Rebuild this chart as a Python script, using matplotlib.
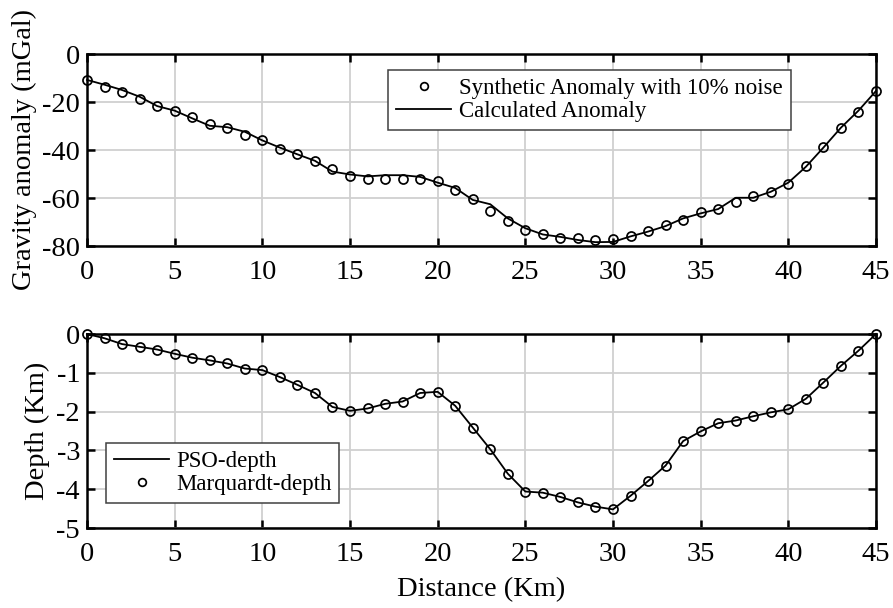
import matplotlib
matplotlib.use("Agg")
import matplotlib.pyplot as plt
import numpy as np

plt.rcParams['font.family'] = ['Liberation Serif', 'DejaVu Serif']
plt.rcParams['mathtext.fontset'] = 'stix'

distance = list(range(0, 46))

synthetic_anomaly = [-10.8, -13.8, -16.0, -18.9, -21.7, -23.9, -26.3, -29.2, -30.8, -33.8,
                     -36.0, -39.4, -41.5, -44.4, -47.9, -50.7, -51.9, -51.9, -51.9, -51.9,
                     -53.1, -56.5, -60.4, -65.4, -69.4, -73.3, -75.0, -76.8, -76.8, -77.5,
                     -76.9, -75.7, -73.9, -71.1, -69.3, -66.0, -64.4, -61.5, -59.2, -57.5,
                     -54.0, -46.7, -38.8, -30.8, -24.2, -15.4]

calculated_anomaly = [-10.8, -12.8, -15.0, -17.8, -21.7, -23.6, -26.8, -29.9, -30.5, -32.4,
                      -36.0, -39.0, -41.8, -44.5, -49.0, -50.2, -51.0, -50.5, -50.5, -51.2,
                      -53.6, -55.8, -60.8, -62.6, -68.5, -72.6, -75.2, -76.2, -77.5, -78.4,
                      -78.3, -76.0, -74.0, -71.7, -68.5, -66.4, -64.6, -59.9, -59.9, -57.4,
                      -53.6, -47.0, -39.0, -30.7, -23.6, -15.4]

marquardt_depth = [0.0, -0.11, -0.26, -0.33, -0.40, -0.51, -0.61, -0.68, -0.76, -0.89,
                   -0.93, -1.11, -1.31, -1.52, -1.88, -1.98, -1.92, -1.80, -1.74, -1.52,
                   -1.49, -1.85, -2.41, -2.97, -3.60, -4.06, -4.09, -4.20, -4.34, -4.45,
                   -4.52, -4.17, -3.79, -3.39, -2.76, -2.51, -2.30, -2.23, -2.12, -2.02,
                   -1.94, -1.67, -1.25, -0.82, -0.43, 0.0]

pso_depth = list(marquardt_depth)

x_ticks = [0, 5, 10, 15, 20, 25, 30, 35, 40, 45]
top_yticks = [0, -20, -40, -60, -80]
bot_yticks = [0, -1, -2, -3, -4, -5]

FS = 20.5
LFS = 16.5

fig = plt.figure(figsize=(8.93, 6.08), dpi=100)
W, H = 893, 608

def make_axes(x0, x1, y0, y1):
    return fig.add_axes([x0 / W, 1 - y1 / H, (x1 - x0) / W, (y1 - y0) / H])

ax1 = make_axes(87, 876, 54, 246)
ax2 = make_axes(87, 876, 334, 528)

for ax in (ax1, ax2):
    ax.grid(True, color='#d0d0d0', linewidth=1.3)
    ax.set_axisbelow(True)
    for s in ax.spines.values():
        s.set_linewidth(1.8)
    ax.tick_params(direction='in', top=True, right=True, length=6, width=1.8,
                   labelsize=FS)
    ax.tick_params(axis='x', pad=10)
    ax.tick_params(axis='y', pad=5)
    ax.set_xlim(0, 45)
    ax.set_xticks(x_ticks)
    ax.set_xticklabels([str(t) for t in x_ticks])

def style_legend(leg):
    fr = leg.get_frame()
    fr.set_edgecolor('#404040')
    fr.set_linewidth(1.1)
    fr.set_facecolor('white')
    fr.set_alpha(1.0)
    leg.set_zorder(10)

# top
ax1.plot(distance, synthetic_anomaly, linestyle='none', marker='o', markersize=6.5,
         markerfacecolor='none', markeredgecolor='black', markeredgewidth=1.25,
         label='Synthetic Anomaly with 10% noise', clip_on=False, zorder=3)
ax1.plot(distance, calculated_anomaly, color='black', linewidth=1.3,
         label='Calculated Anomaly', clip_on=False, zorder=3)
ax1.set_ylim(-80, 0)
ax1.set_yticks(top_yticks)
ax1.set_yticklabels([str(t) for t in top_yticks])
ax1.set_ylabel('Gravity anomaly (mGal)', fontsize=FS)
ax1.yaxis.set_label_coords(-0.064, 0.5)
leg1 = ax1.legend(loc='upper left', bbox_to_anchor=((388 - 87) / 789, (246 - 70) / 192),
                  fontsize=LFS, frameon=True, fancybox=False, handlelength=2.4,
                  handletextpad=0.35, borderpad=0.35, labelspacing=0.1,
                  borderaxespad=0, markerscale=0.85, framealpha=1.0)
style_legend(leg1)

# bottom
ax2.plot(distance, pso_depth, color='black', linewidth=1.3, label='PSO-depth',
         clip_on=False, zorder=3)
ax2.plot(distance, marquardt_depth, linestyle='none', marker='o', markersize=6.5,
         markerfacecolor='none', markeredgecolor='black', markeredgewidth=1.25,
         label='Marquardt-depth', clip_on=False, zorder=3)
ax2.set_ylim(-5, 0)
ax2.set_yticks(bot_yticks)
ax2.set_yticklabels([str(t) for t in bot_yticks])
ax2.set_ylabel('Depth (Km)', fontsize=FS)
ax2.yaxis.set_label_coords(-0.047, 0.5)
ax2.set_xlabel('Distance (Km)', fontsize=FS, labelpad=7)
leg2 = ax2.legend(loc='upper left', bbox_to_anchor=((106 - 87) / 789, (528 - 443) / 194),
                  fontsize=LFS, frameon=True, fancybox=False, handlelength=2.4,
                  handletextpad=0.3, borderpad=0.35, labelspacing=0.1,
                  borderaxespad=0, markerscale=0.85, framealpha=1.0)
style_legend(leg2)

fig.savefig('out.png', dpi=100)
